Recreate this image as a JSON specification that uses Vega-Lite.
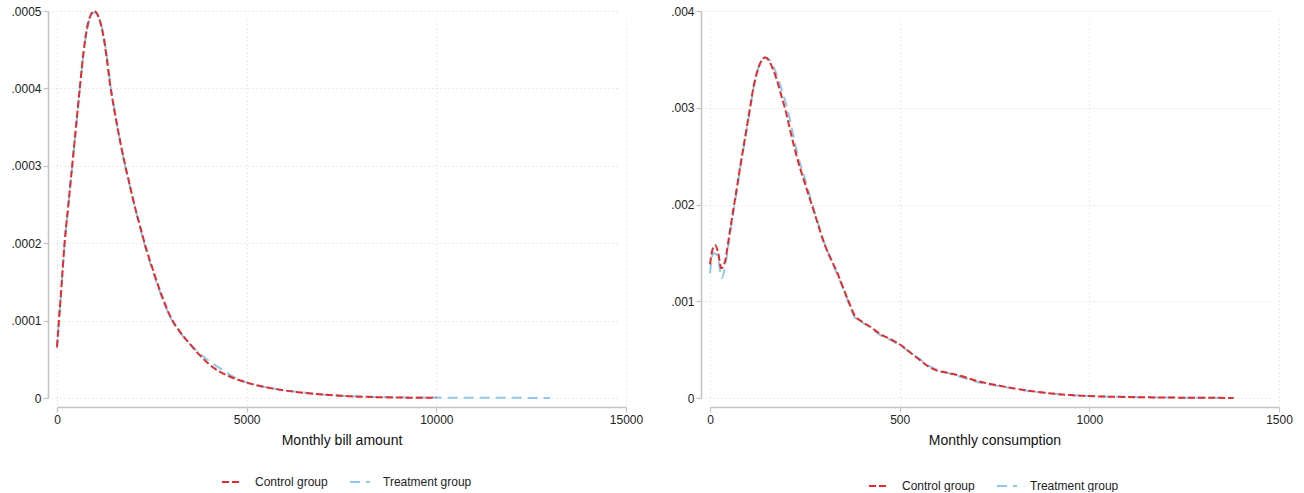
{
  "$schema": "https://vega.github.io/schema/vega-lite/v6.json",
  "background": "white",
  "padding": {"left": 10, "top": 5, "right": 10, "bottom": 0},
  "bounds": "flush",
  "spacing": 84,
  "datasets": {
    "bill": [
      {"group": "Control group", "x": 0, "density": 0.000066},
      {"group": "Control group", "x": 50, "density": 0.0001},
      {"group": "Control group", "x": 100, "density": 0.000132},
      {"group": "Control group", "x": 150, "density": 0.000167},
      {"group": "Control group", "x": 200, "density": 0.0002},
      {"group": "Control group", "x": 300, "density": 0.00025},
      {"group": "Control group", "x": 400, "density": 0.0003},
      {"group": "Control group", "x": 500, "density": 0.00035},
      {"group": "Control group", "x": 600, "density": 0.0004},
      {"group": "Control group", "x": 700, "density": 0.000447},
      {"group": "Control group", "x": 800, "density": 0.00048},
      {"group": "Control group", "x": 900, "density": 0.000496},
      {"group": "Control group", "x": 980, "density": 0.0005},
      {"group": "Control group", "x": 1050, "density": 0.000497},
      {"group": "Control group", "x": 1150, "density": 0.000484},
      {"group": "Control group", "x": 1250, "density": 0.00046},
      {"group": "Control group", "x": 1325, "density": 0.000434},
      {"group": "Control group", "x": 1400, "density": 0.000405},
      {"group": "Control group", "x": 1500, "density": 0.000375},
      {"group": "Control group", "x": 1600, "density": 0.000348},
      {"group": "Control group", "x": 1700, "density": 0.000323},
      {"group": "Control group", "x": 1800, "density": 0.0003},
      {"group": "Control group", "x": 1900, "density": 0.000279},
      {"group": "Control group", "x": 2000, "density": 0.000258},
      {"group": "Control group", "x": 2100, "density": 0.000238},
      {"group": "Control group", "x": 2200, "density": 0.00022},
      {"group": "Control group", "x": 2350, "density": 0.000193},
      {"group": "Control group", "x": 2500, "density": 0.00017},
      {"group": "Control group", "x": 2750, "density": 0.000134},
      {"group": "Control group", "x": 3000, "density": 0.000104},
      {"group": "Control group", "x": 3250, "density": 0.000085},
      {"group": "Control group", "x": 3500, "density": 0.00007},
      {"group": "Control group", "x": 3750, "density": 0.000056},
      {"group": "Control group", "x": 4000, "density": 0.000044},
      {"group": "Control group", "x": 4250, "density": 0.000035},
      {"group": "Control group", "x": 4500, "density": 0.000029},
      {"group": "Control group", "x": 4750, "density": 0.000024},
      {"group": "Control group", "x": 5000, "density": 0.00002},
      {"group": "Control group", "x": 5500, "density": 0.000014},
      {"group": "Control group", "x": 6000, "density": 0.0000098},
      {"group": "Control group", "x": 6500, "density": 0.0000068},
      {"group": "Control group", "x": 7000, "density": 0.0000045},
      {"group": "Control group", "x": 7500, "density": 0.0000028},
      {"group": "Control group", "x": 8000, "density": 0.0000017},
      {"group": "Control group", "x": 8500, "density": 0.000001},
      {"group": "Control group", "x": 9000, "density": 0.0000006},
      {"group": "Control group", "x": 9500, "density": 0.0000003},
      {"group": "Control group", "x": 10000, "density": 0.0000002},
      {"group": "Treatment group", "x": 0, "density": 0.000064},
      {"group": "Treatment group", "x": 50, "density": 0.000098},
      {"group": "Treatment group", "x": 100, "density": 0.00013},
      {"group": "Treatment group", "x": 150, "density": 0.000165},
      {"group": "Treatment group", "x": 200, "density": 0.000198},
      {"group": "Treatment group", "x": 300, "density": 0.000249},
      {"group": "Treatment group", "x": 400, "density": 0.000299},
      {"group": "Treatment group", "x": 500, "density": 0.000349},
      {"group": "Treatment group", "x": 600, "density": 0.000399},
      {"group": "Treatment group", "x": 700, "density": 0.000446},
      {"group": "Treatment group", "x": 800, "density": 0.000478},
      {"group": "Treatment group", "x": 900, "density": 0.000494},
      {"group": "Treatment group", "x": 980, "density": 0.000498},
      {"group": "Treatment group", "x": 1050, "density": 0.000496},
      {"group": "Treatment group", "x": 1150, "density": 0.000485},
      {"group": "Treatment group", "x": 1250, "density": 0.000462},
      {"group": "Treatment group", "x": 1325, "density": 0.000437},
      {"group": "Treatment group", "x": 1400, "density": 0.000408},
      {"group": "Treatment group", "x": 1500, "density": 0.000377},
      {"group": "Treatment group", "x": 1600, "density": 0.000349},
      {"group": "Treatment group", "x": 1700, "density": 0.000323},
      {"group": "Treatment group", "x": 1800, "density": 0.000299},
      {"group": "Treatment group", "x": 1900, "density": 0.000278},
      {"group": "Treatment group", "x": 2000, "density": 0.000257},
      {"group": "Treatment group", "x": 2100, "density": 0.000237},
      {"group": "Treatment group", "x": 2200, "density": 0.000218},
      {"group": "Treatment group", "x": 2350, "density": 0.000191},
      {"group": "Treatment group", "x": 2500, "density": 0.000168},
      {"group": "Treatment group", "x": 2750, "density": 0.000132},
      {"group": "Treatment group", "x": 3000, "density": 0.000103},
      {"group": "Treatment group", "x": 3250, "density": 0.000084},
      {"group": "Treatment group", "x": 3500, "density": 0.00007},
      {"group": "Treatment group", "x": 3750, "density": 0.000058},
      {"group": "Treatment group", "x": 4000, "density": 0.000048},
      {"group": "Treatment group", "x": 4250, "density": 0.00004},
      {"group": "Treatment group", "x": 4500, "density": 0.000032},
      {"group": "Treatment group", "x": 4750, "density": 0.000025},
      {"group": "Treatment group", "x": 5000, "density": 0.00002},
      {"group": "Treatment group", "x": 5500, "density": 0.000014},
      {"group": "Treatment group", "x": 6000, "density": 0.00001},
      {"group": "Treatment group", "x": 6500, "density": 0.000007},
      {"group": "Treatment group", "x": 7000, "density": 0.0000046},
      {"group": "Treatment group", "x": 7500, "density": 0.000003},
      {"group": "Treatment group", "x": 8000, "density": 0.0000019},
      {"group": "Treatment group", "x": 9000, "density": 0.0000009},
      {"group": "Treatment group", "x": 10000, "density": 0.0000005},
      {"group": "Treatment group", "x": 11000, "density": 0.0000003},
      {"group": "Treatment group", "x": 12000, "density": 0.0000002},
      {"group": "Treatment group", "x": 13000, "density": 0.0000001}
    ],
    "consumption": [
      {"group": "Control group", "x": 0, "density": 0.00138},
      {"group": "Control group", "x": 7, "density": 0.00154},
      {"group": "Control group", "x": 14, "density": 0.00158},
      {"group": "Control group", "x": 21, "density": 0.00151},
      {"group": "Control group", "x": 30, "density": 0.00134},
      {"group": "Control group", "x": 40, "density": 0.00142},
      {"group": "Control group", "x": 50, "density": 0.00166},
      {"group": "Control group", "x": 60, "density": 0.00191},
      {"group": "Control group", "x": 70, "density": 0.00215},
      {"group": "Control group", "x": 80, "density": 0.0024},
      {"group": "Control group", "x": 92, "density": 0.00268},
      {"group": "Control group", "x": 106, "density": 0.00301},
      {"group": "Control group", "x": 115, "density": 0.00322},
      {"group": "Control group", "x": 125, "density": 0.00338},
      {"group": "Control group", "x": 135, "density": 0.00348},
      {"group": "Control group", "x": 145, "density": 0.00352},
      {"group": "Control group", "x": 155, "density": 0.00349},
      {"group": "Control group", "x": 165, "density": 0.00341},
      {"group": "Control group", "x": 176, "density": 0.00329},
      {"group": "Control group", "x": 187, "density": 0.00314},
      {"group": "Control group", "x": 198, "density": 0.00299},
      {"group": "Control group", "x": 213, "density": 0.00274},
      {"group": "Control group", "x": 229, "density": 0.00249},
      {"group": "Control group", "x": 246, "density": 0.00227},
      {"group": "Control group", "x": 264, "density": 0.00205},
      {"group": "Control group", "x": 282, "density": 0.00183},
      {"group": "Control group", "x": 299, "density": 0.00162},
      {"group": "Control group", "x": 317, "density": 0.00145},
      {"group": "Control group", "x": 335, "density": 0.0013},
      {"group": "Control group", "x": 350, "density": 0.00115},
      {"group": "Control group", "x": 365, "density": 0.001},
      {"group": "Control group", "x": 382, "density": 0.00085},
      {"group": "Control group", "x": 401, "density": 0.00079},
      {"group": "Control group", "x": 425, "density": 0.00073},
      {"group": "Control group", "x": 449, "density": 0.00066},
      {"group": "Control group", "x": 475, "density": 0.00061},
      {"group": "Control group", "x": 502, "density": 0.00055},
      {"group": "Control group", "x": 528, "density": 0.00047},
      {"group": "Control group", "x": 554, "density": 0.00039},
      {"group": "Control group", "x": 574, "density": 0.00033},
      {"group": "Control group", "x": 594, "density": 0.00029},
      {"group": "Control group", "x": 627, "density": 0.00026},
      {"group": "Control group", "x": 660, "density": 0.00023},
      {"group": "Control group", "x": 700, "density": 0.00018},
      {"group": "Control group", "x": 766, "density": 0.000125},
      {"group": "Control group", "x": 850, "density": 0.00007},
      {"group": "Control group", "x": 950, "density": 0.00003},
      {"group": "Control group", "x": 1000, "density": 0.00002},
      {"group": "Control group", "x": 1100, "density": 0.00001},
      {"group": "Control group", "x": 1200, "density": 0.000005},
      {"group": "Control group", "x": 1300, "density": 0.000002},
      {"group": "Control group", "x": 1380, "density": 0.000001},
      {"group": "Treatment group", "x": 0, "density": 0.00129},
      {"group": "Treatment group", "x": 9, "density": 0.0015},
      {"group": "Treatment group", "x": 20, "density": 0.00147},
      {"group": "Treatment group", "x": 31, "density": 0.00124},
      {"group": "Treatment group", "x": 42, "density": 0.00141},
      {"group": "Treatment group", "x": 52, "density": 0.00168},
      {"group": "Treatment group", "x": 62, "density": 0.00193},
      {"group": "Treatment group", "x": 71, "density": 0.00216},
      {"group": "Treatment group", "x": 81, "density": 0.00241},
      {"group": "Treatment group", "x": 93, "density": 0.00269},
      {"group": "Treatment group", "x": 107, "density": 0.00302},
      {"group": "Treatment group", "x": 116, "density": 0.00323},
      {"group": "Treatment group", "x": 126, "density": 0.00339},
      {"group": "Treatment group", "x": 136, "density": 0.00349},
      {"group": "Treatment group", "x": 147, "density": 0.00352},
      {"group": "Treatment group", "x": 158, "density": 0.00349},
      {"group": "Treatment group", "x": 169, "density": 0.00341},
      {"group": "Treatment group", "x": 180, "density": 0.0033},
      {"group": "Treatment group", "x": 191, "density": 0.00316},
      {"group": "Treatment group", "x": 202, "density": 0.00302},
      {"group": "Treatment group", "x": 217, "density": 0.00276},
      {"group": "Treatment group", "x": 232, "density": 0.0025},
      {"group": "Treatment group", "x": 249, "density": 0.00228},
      {"group": "Treatment group", "x": 266, "density": 0.00205},
      {"group": "Treatment group", "x": 283, "density": 0.00183},
      {"group": "Treatment group", "x": 300, "density": 0.00162},
      {"group": "Treatment group", "x": 318, "density": 0.00144},
      {"group": "Treatment group", "x": 335, "density": 0.00128},
      {"group": "Treatment group", "x": 350, "density": 0.00114},
      {"group": "Treatment group", "x": 365, "density": 0.00099},
      {"group": "Treatment group", "x": 382, "density": 0.00083},
      {"group": "Treatment group", "x": 401, "density": 0.00078},
      {"group": "Treatment group", "x": 425, "density": 0.00072},
      {"group": "Treatment group", "x": 449, "density": 0.00065},
      {"group": "Treatment group", "x": 475, "density": 0.0006},
      {"group": "Treatment group", "x": 502, "density": 0.00054},
      {"group": "Treatment group", "x": 528, "density": 0.00047},
      {"group": "Treatment group", "x": 554, "density": 0.0004},
      {"group": "Treatment group", "x": 574, "density": 0.00034},
      {"group": "Treatment group", "x": 594, "density": 0.0003},
      {"group": "Treatment group", "x": 627, "density": 0.00026},
      {"group": "Treatment group", "x": 660, "density": 0.00022},
      {"group": "Treatment group", "x": 700, "density": 0.00017},
      {"group": "Treatment group", "x": 766, "density": 0.00012},
      {"group": "Treatment group", "x": 850, "density": 0.000068},
      {"group": "Treatment group", "x": 950, "density": 0.00003},
      {"group": "Treatment group", "x": 1000, "density": 0.00002},
      {"group": "Treatment group", "x": 1100, "density": 0.00001},
      {"group": "Treatment group", "x": 1200, "density": 0.000005},
      {"group": "Treatment group", "x": 1300, "density": 0.000002},
      {"group": "Treatment group", "x": 1380, "density": 0.000001}
    ]
  },
  "resolve": {"scale": {"color": "independent", "strokeDash": "independent"}},
  "hconcat": [
    {
      "width": 569,
      "height": 387,
      "data": {"name": "bill"},
      "encoding": {
        "x": {
          "field": "x", "type": "quantitative",
          "scale": {"domain": [0, 15000], "nice": false},
          "axis": {"values": [0, 5000, 10000, 15000], "title": "Monthly bill amount", "format": "d"}
        },
        "y": {
          "field": "density", "type": "quantitative",
          "scale": {"domain": [0, 0.0005], "nice": false},
          "axis": {"values": [0, 0.0001, 0.0002, 0.0003, 0.0004, 0.0005], "title": null,
                   "labelExpr": "datum.value == 0 ? '0' : replace(format(datum.value, '.4f'), '0.', '.')"}
        },
        "color": {
          "field": "group", "type": "nominal",
          "scale": {"domain": ["Control group", "Treatment group"], "range": ["#e32b2b", "#8fc6ec"]},
          "legend": {"orient": "none", "legendX": 164, "legendY": 460, "direction": "horizontal", "title": null}
        },
        "strokeDash": {
          "field": "group", "type": "nominal",
          "scale": {"domain": ["Control group", "Treatment group"], "range": [[7, 3], [10, 6]]},
          "legend": {"orient": "none", "legendX": 164, "legendY": 460, "direction": "horizontal", "title": null}
        }
      },
      "layer": [
        {"transform": [{"filter": "datum.group == 'Treatment group'"}], "mark": {"type": "line", "strokeWidth": 2, "interpolate": "monotone"}},
        {"transform": [{"filter": "datum.group == 'Control group'"}], "mark": {"type": "line", "strokeWidth": 2, "interpolate": "monotone"}}
      ]
    },
    {
      "width": 569,
      "height": 387,
      "data": {"name": "consumption"},
      "encoding": {
        "x": {
          "field": "x", "type": "quantitative",
          "scale": {"domain": [0, 1500], "nice": false},
          "axis": {"values": [0, 500, 1000, 1500], "title": "Monthly consumption", "format": "d"}
        },
        "y": {
          "field": "density", "type": "quantitative",
          "scale": {"domain": [0, 0.004], "nice": false},
          "axis": {"values": [0, 0.001, 0.002, 0.003, 0.004], "title": null,
                   "labelExpr": "datum.value == 0 ? '0' : replace(format(datum.value, '.3f'), '0.', '.')"}
        },
        "color": {
          "field": "group", "type": "nominal",
          "scale": {"domain": ["Control group", "Treatment group"], "range": ["#e32b2b", "#8fc6ec"]},
          "legend": {"orient": "none", "legendX": 158, "legendY": 464, "direction": "horizontal", "title": null}
        },
        "strokeDash": {
          "field": "group", "type": "nominal",
          "scale": {"domain": ["Control group", "Treatment group"], "range": [[7, 3], [10, 6]]},
          "legend": {"orient": "none", "legendX": 158, "legendY": 464, "direction": "horizontal", "title": null}
        }
      },
      "layer": [
        {"transform": [{"filter": "datum.group == 'Treatment group'"}], "mark": {"type": "line", "strokeWidth": 2, "interpolate": "monotone"}},
        {"transform": [{"filter": "datum.group == 'Control group'"}], "mark": {"type": "line", "strokeWidth": 2, "interpolate": "monotone"}}
      ]
    }
  ],
  "config": {
    "view": {"stroke": null},
    "font": "Liberation Sans",
    "axis": {
      "offset": 9,
      "labelFlush": false,
      "domainColor": "#c4c4c4",
      "domainWidth": 1.5,
      "tickColor": "#c4c4c4",
      "tickWidth": 1.2,
      "tickSize": 5,
      "labelFont": "Liberation Sans",
      "labelFontSize": 12,
      "labelColor": "#222222",
      "labelPadding": 2,
      "titleFont": "Liberation Sans",
      "titleFontSize": 14,
      "titleFontWeight": "normal",
      "titleColor": "#111111",
      "titlePadding": 8,
      "gridColor": "#d6d6d6",
      "gridDash": [1, 3],
      "gridWidth": 1
    },
    "legend": {
      "symbolType": "stroke",
      "symbolStrokeWidth": 2,
      "symbolSize": 400,
      "labelFont": "Liberation Sans",
      "labelFontSize": 12,
      "labelColor": "#222222",
      "labelOffset": 12,
      "columnPadding": 18,
      "padding": 0
    }
  }
}
